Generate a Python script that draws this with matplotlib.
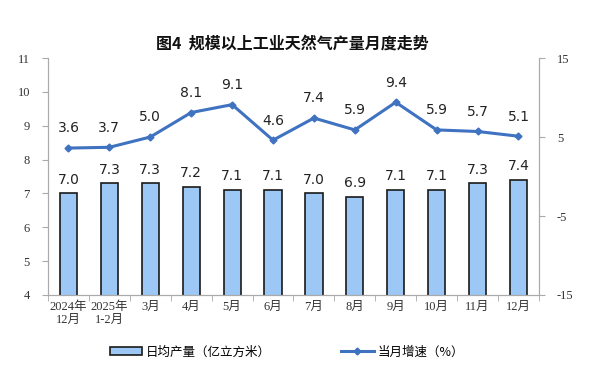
import matplotlib.pyplot as plt
import numpy as np

# 数据
months = ['2024年\n12月', '2025年\n1-2月', '3月', '4月', '5月', '6月',
          '7月', '8月', '9月', '10月', '11月', '12月']
daily_output = [7.0, 7.3, 7.3, 7.2, 7.1, 7.1, 7.0, 6.9, 7.1, 7.1, 7.3, 7.4]
growth = [3.6, 3.7, 5.0, 8.1, 9.1, 4.6, 7.4, 5.9, 9.4, 5.9, 5.7, 5.1]

cjk = ['Noto Sans CJK SC', 'DejaVu Sans']
serif = ['Liberation Serif', 'Noto Sans CJK SC']
plt.rcParams['font.family'] = cjk
plt.rcParams['axes.unicode_minus'] = False

fig = plt.figure(figsize=(5.89, 3.8), dpi=100)
ax = fig.add_axes([0.0815, 0.2237, 0.8335, 0.6236])
ax2 = ax.twinx()

x = np.arange(len(months))
bars = ax.bar(x, daily_output, width=0.42, color='#9DC8F5', edgecolor='#1a1a1a',
              linewidth=1.2, zorder=2)
for xi, v in zip(x, daily_output):
    ax.text(xi, v + 0.2, f'{v:.1f}', ha='center', va='bottom', fontsize=10,
            color='#222222', family=['DejaVu Sans'])

line, = ax2.plot(x, growth, color='#3F72C0', linewidth=2.2, marker='D',
                 markersize=3.5, zorder=3)
for xi, v in zip(x, growth):
    ax2.text(xi, v + 1.6, f'{v:.1f}', ha='center', va='bottom', fontsize=10,
             color='#222222', family=['DejaVu Sans'])

ax.set_xlim(-0.5, len(months) - 0.5)
ax.set_ylim(4, 11)
ax.set_yticks(range(4, 12))
ax2.set_ylim(-15, 15)
ax2.set_yticks([-15, -5, 5, 15])

ax.set_xticks(x)
ax.set_xticklabels(months, family=serif, fontsize=9, color='#333333', linespacing=1.1)
ax.set_xticks(np.arange(-0.5, len(months), 1), minor=True)
ax.tick_params(axis='x', which='major', length=0, pad=4)
ax.tick_params(axis='x', which='minor', length=4, color='#aaaaaa')
for a in (ax, ax2):
    a.tick_params(axis='y', labelsize=9, colors='#333333', length=4, color='#aaaaaa')
    for lbl in a.get_yticklabels():
        lbl.set_family(serif)
    for s in ['top']:
        a.spines[s].set_visible(False)
    for s in ['left', 'right', 'bottom']:
        a.spines[s].set_color('#aaaaaa')
ax.tick_params(axis='y', pad=9)
ax2.tick_params(axis='y', pad=9)

fig.text(0.496, 0.885, '图4  规模以上工业天然气产量月度走势', ha='center', va='center',
         fontsize=11.5, fontweight='bold', color='#111111')

fig.legend([bars, line], ['日均产量（亿立方米）', '当月增速（%）'], loc='center',
           bbox_to_anchor=(0.487, 0.074), ncol=2, frameon=False, fontsize=9,
           columnspacing=5.6, handlelength=2.6, handletextpad=0.3)

fig.savefig('out.png', dpi=100)
